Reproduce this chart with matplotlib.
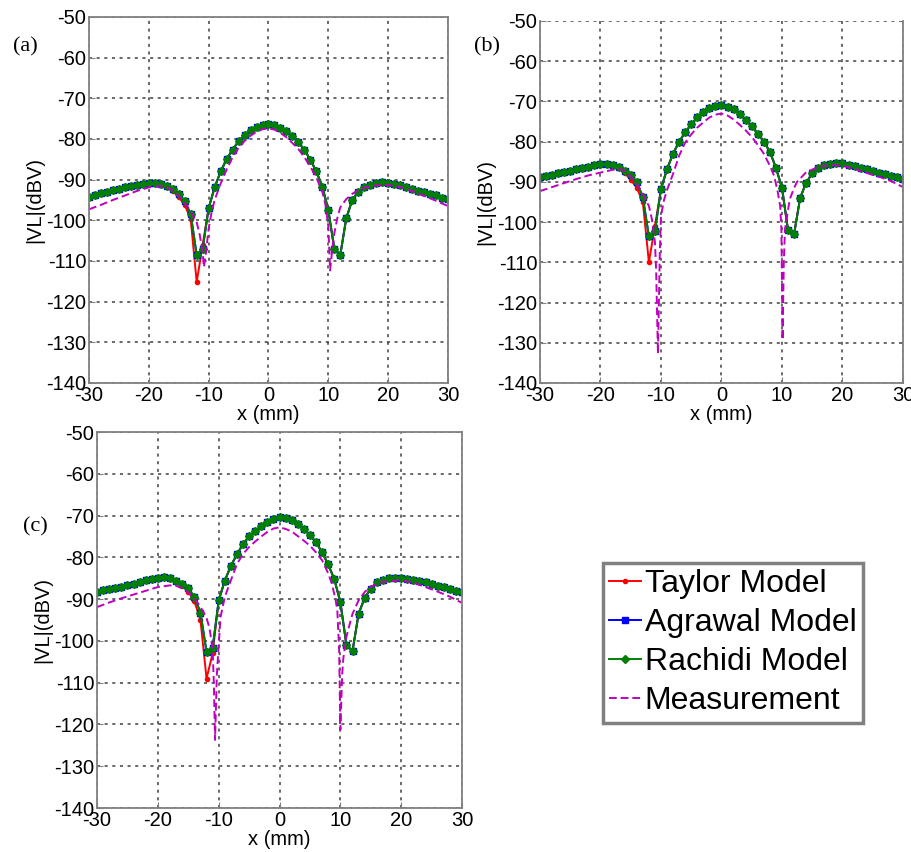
import matplotlib
matplotlib.use("Agg")
import matplotlib.pyplot as plt
import numpy as np

plt.rcParams['font.family'] = ['Liberation Sans', 'DejaVu Sans']
plt.rcParams['axes.unicode_minus'] = False

# x positions of the model points (mm)
x_model = list(range(-30, 31))

# ---- panel (a) ----
agrawal_a = [-94.3, -93.8, -93.4, -93.0, -92.6, -92.2, -91.9, -91.6, -91.3, -91.1,
             -90.9, -90.9, -91.1, -91.5, -92.4, -93.6, -95.2, -98.5, -108.5, -107.0,
             -97.0, -91.9, -88.0, -85.0, -82.6, -80.6, -79.0, -77.8, -77.0, -76.5,
             -76.3, -76.6, -77.2, -78.0, -79.3, -80.8, -82.7, -85.1, -88.0, -91.7,
             -97.5, -107.0, -108.5, -99.5, -95.0, -93.0, -91.9, -91.2, -90.9, -90.7,
             -90.8, -91.1, -91.4, -91.8, -92.3, -92.7, -93.1, -93.5, -93.9, -94.4, -94.8]
rachidi_a = list(agrawal_a)
taylor_a = list(agrawal_a)
taylor_a[13:20] = [-91.8, -92.8, -94.3, -96.2, -99.8, -115.2, -106.0]

meas_x_a = [-30, -28, -26, -24, -22, -20, -18, -17, -16, -15, -14, -13, -12, -11.5, -11,
            -10.8, -10.5, -10, -9.5, -9, -8, -7, -6, -5, -4, -3, -2, -1, 0, 1, 2, 3, 4,
            5, 6, 7, 8, 9, 9.5, 10, 10.3, 10.6, 11, 11.5, 12, 13, 14, 15, 16, 18, 20,
            22, 24, 26, 28, 30]
meas_a = [-97.3, -96.2, -95.0, -93.9, -92.8, -91.9, -91.6, -91.9, -92.6, -94.0, -95.8,
          -97.8, -100.5, -103.5, -108.0, -111.5, -108.5, -102.0, -98.0, -95.0, -91.0,
          -87.5, -84.5, -82.2, -80.5, -79.2, -78.2, -77.6, -77.4, -77.7, -78.5, -79.6,
          -81.0, -82.5, -84.5, -86.8, -89.5, -93.0, -96.0, -101.5, -112.3, -108.0,
          -103.2, -99.5, -96.8, -94.8, -93.5, -92.6, -92.0, -91.4, -91.3, -91.8, -92.8,
          -94.0, -95.2, -96.5]

# ---- panel (b) ----
agrawal_b = [-88.9, -88.6, -88.2, -87.9, -87.5, -87.2, -86.8, -86.5, -86.2, -85.9,
             -85.6, -85.5, -85.8, -86.4, -87.2, -88.3, -90.0, -93.8, -103.5, -102.3,
             -91.8, -86.8, -83.0, -80.0, -77.7, -75.7, -74.0, -72.6, -71.7, -71.2,
             -71.0, -71.3, -72.0, -73.2, -74.6, -76.2, -78.0, -80.0, -82.5, -86.5,
             -91.5, -102.0, -103.0, -94.0, -90.2, -87.9, -86.6, -85.9, -85.5, -85.3,
             -85.4, -85.7, -86.1, -86.5, -86.9, -87.3, -87.7, -88.1, -88.5, -88.8, -89.2]
rachidi_b = list(agrawal_b)
taylor_b = list(agrawal_b)
taylor_b[13:20] = [-86.6, -87.8, -89.5, -91.5, -95.0, -110.0, -101.0]

meas_x_b = [-30, -28, -26, -24, -22, -20, -18, -17, -16, -15, -14, -13, -12, -11.5, -11,
            -10.8, -10.5, -10.2, -10, -9.5, -9, -8, -7, -6, -5, -4, -3, -2, -1, 0, 1,
            2, 3, 4, 5, 6, 7, 8, 8.7, 9.3, 9.7, 9.9, 10.1, 10.3, 10.5, 11, 11.3, 12,
            12.5, 14, 16, 18, 20, 22, 24, 26, 28, 30]
meas_b = [-92.3, -91.3, -90.3, -89.3, -88.4, -87.7, -87.0, -86.8, -87.2, -88.7, -90.5,
          -93.0, -96.0, -99.3, -105.0, -112.0, -132.7, -108.0, -98.5, -94.5, -92.0,
          -88.0, -83.5, -80.2, -78.2, -76.5, -75.2, -74.0, -73.3, -73.0, -73.5, -74.5,
          -75.8, -77.2, -78.8, -80.8, -83.0, -86.0, -88.5, -92.5, -96.0, -101.8,
          -129.3, -110.0, -101.8, -97.0, -94.3, -91.5, -90.0, -87.6, -86.3, -85.8,
          -86.0, -86.8, -87.8, -88.7, -89.8, -91.3]

# ---- panel (c) ----
agrawal_c = [-88.3, -87.9, -87.6, -87.3, -87.0, -86.7, -86.3, -85.9, -85.5, -85.1,
             -84.9, -84.7, -85.0, -85.6, -86.4, -87.4, -89.4, -93.2, -102.6, -101.6,
             -90.3, -85.6, -82.0, -79.3, -76.8, -75.0, -73.8, -72.6, -71.6, -70.8,
             -70.4, -70.5, -71.0, -72.0, -73.2, -74.7, -76.4, -78.8, -81.7, -85.2,
             -90.7, -101.0, -102.4, -93.5, -89.7, -87.5, -86.0, -85.3, -85.0, -84.9,
             -84.9, -85.2, -85.4, -85.7, -86.0, -86.4, -86.8, -87.2, -87.6, -88.0, -88.4]
rachidi_c = list(agrawal_c)
taylor_c = list(agrawal_c)
taylor_c[13:20] = [-85.8, -86.8, -88.2, -90.5, -95.0, -109.0, -103.0]

meas_x_c = [-30, -28, -26, -24, -22, -20, -18, -17, -16, -15, -14, -13, -12, -11.5, -11,
            -10.8, -10.6, -10.3, -10, -9.7, -9, -8, -7, -6, -5, -4, -3, -2, -1, 0, 1,
            2, 3, 4, 5, 6, 7, 8, 8.6, 9.2, 9.5, 9.8, 10.0, 10.3, 10.5, 11.0, 11.4, 12,
            13, 14, 15, 16.8, 19.6, 22, 24, 26, 28, 30]
meas_c = [-91.9, -90.8, -89.8, -88.9, -88.0, -87.1, -86.7, -86.8, -87.4, -88.4, -89.8,
          -91.8, -94.5, -97.0, -102.0, -110.0, -123.7, -108.0, -101.0, -94.3, -89.5,
          -85.5, -81.6, -79.2, -77.5, -76.2, -75.0, -73.9, -73.1, -72.8, -73.2, -73.8,
          -74.9, -76.0, -77.2, -78.8, -80.7, -83.8, -86.3, -90.0, -92.7, -102.2,
          -121.3, -108.0, -104.0, -99.0, -96.7, -93.5, -90.3, -88.3, -87.0, -85.9,
          -85.5, -86.0, -87.1, -88.2, -89.4, -90.9]

series_labels = ['Taylor Model', 'Agrawal Model', 'Rachidi Model', 'Measurement']
x_ticks = [-30, -20, -10, 0, 10, 20, 30]
y_ticks = list(range(-140, -49, 10))

c_taylor = '#ff0000'
c_agrawal = '#0000ff'
c_rachidi = '#008000'
c_meas = '#c000c0'

fig = plt.figure(figsize=(9.12, 8.52), dpi=100)

ax_a = fig.add_axes([0.0976, 0.5505, 0.3936, 0.4296])
ax_b = fig.add_axes([0.5921, 0.5505, 0.3980, 0.4249])
ax_c = fig.add_axes([0.1064, 0.0516, 0.4002, 0.4413])

panels = [
    (ax_a, taylor_a, agrawal_a, rachidi_a, meas_x_a, meas_a),
    (ax_b, taylor_b, agrawal_b, rachidi_b, meas_x_b, meas_b),
    (ax_c, taylor_c, agrawal_c, rachidi_c, meas_x_c, meas_c),
]

handles = None
for ax, tay, agr, rac, mx, my in panels:
    h1, = ax.plot(x_model, tay, '-', color=c_taylor, marker='.', ms=6, lw=1.4)
    h2, = ax.plot(x_model, agr, '-', color=c_agrawal, marker='s', ms=4.5, lw=1.4)
    h3, = ax.plot(x_model, rac, '-', color=c_rachidi, marker='D', ms=4, lw=1.4)
    h4, = ax.plot(mx, my, '--', color=c_meas, lw=1.4, dashes=(4, 2))
    handles = [h1, h2, h3, h4]

    ax.set_xlim(-30, 30)
    ax.set_ylim(-140, -50)
    ax.set_xticks(x_ticks)
    ax.set_yticks(y_ticks)
    ax.tick_params(direction='in', length=4, labelsize=14.5, pad=2, color='#808080')
    ax.grid(True, linestyle=(0, (2, 3)), color='#404040', lw=1.1)
    ax.set_axisbelow(True)
    for s in ax.spines.values():
        s.set_color('#808080')
        s.set_linewidth(1.3)
    ax.set_xlabel('x (mm)', fontsize=14.5, labelpad=0)
    ax.set_ylabel('|VL|(dBV)', fontsize=14.5, labelpad=1)

ax_b.spines['top'].set_visible(False)

# panel letters
fig.text(25 / 912, 1 - 47 / 852, '(a)', family='Liberation Serif', fontsize=16,
         ha='center', va='center')
fig.text(487 / 912, 1 - 47 / 852, '(b)', family='Liberation Serif', fontsize=16,
         ha='center', va='center')
fig.text(35 / 912, 1 - 527 / 852, '(c)', family='Liberation Serif', fontsize=16,
         ha='center', va='center')

leg = fig.legend(handles, series_labels, loc='upper left',
                 bbox_to_anchor=(603 / 912, 1 - 563 / 852), fontsize=23,
                 handlelength=1.0, handletextpad=0.1, labelspacing=0.28,
                 borderpad=0.2, borderaxespad=0, fancybox=False, framealpha=1)
leg.get_frame().set_edgecolor('#808080')
leg.get_frame().set_linewidth(2.5)

fig.savefig('out.png', dpi=100)
